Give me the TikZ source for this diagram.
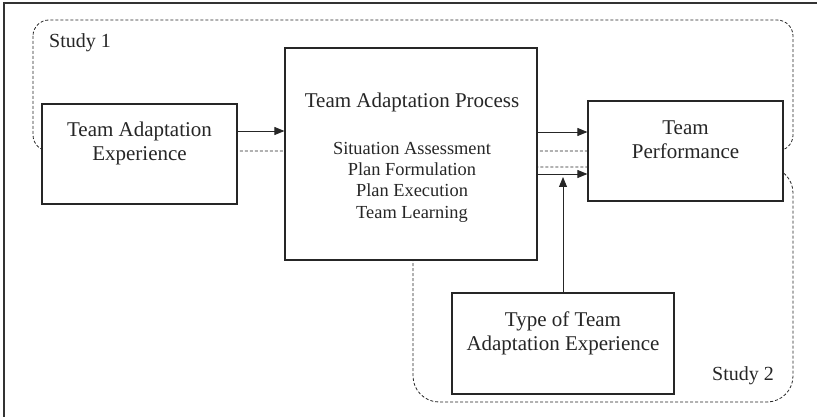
\documentclass[tikz,border=0pt]{standalone}
\usepackage{fontspec}
\setmainfont{Liberation Serif}
\usetikzlibrary{arrows.meta}
\begin{document}
\begin{tikzpicture}[x=1pt,y=-1pt,
  box/.style={draw=black!85, line width=1.2pt, fill=white, rectangle, inner sep=0pt},
  lbl/.style={align=center, font=\fontsize{21}{24}\selectfont, text=black!85, inner sep=0pt},
  item/.style={align=center, font=\fontsize{18.4}{21.3}\selectfont, text=black!85, inner sep=0pt},
  arr/.style={draw=black!85, line width=0.9pt, -{Triangle[length=10pt,width=8pt]}},
  region/.style={draw=black!85, line width=0.8pt, dash pattern=on 3pt off 2pt},
]
\useasboundingbox (0,0) rectangle (817,417);
\draw[line width=1.4pt, black!80] (4,417) -- (4,3) -- (817,3);
% study regions
\draw[region, rounded corners=16pt] (33,20) rectangle (793,151);
\draw[region, rounded corners=26pt] (413,167) rectangle (793,402);
% boxes
\node[box, minimum width=195pt, minimum height=100pt] (tae) at (139.5,154) {};
\node[box, minimum width=252pt, minimum height=212pt] (tap) at (411,154) {};
\node[box, minimum width=195pt, minimum height=100pt] (tp) at (685.5,151) {};
\node[box, minimum width=222pt, minimum height=101pt] (type) at (563,343.5) {};
% texts
\node[lbl] (taetext) at (139.5,143) {Team Adaptation\\Experience};
\node[lbl] (taptitle) at (412,102) {Team Adaptation Process};
\node[item] (tapitems) at (412,182) {Situation Assessment\\Plan Formulation\\Plan Execution\\Team Learning};
\node[lbl] (tptext) at (685.5,139.5) {Team\\Performance};
\node[lbl] (typetext) at (563,333.5) {Type of Team\\Adaptation Experience};
\node[lbl, font=\fontsize{20}{24}\selectfont] (study1) at (80,43) {Study 1};
\node[lbl, font=\fontsize{20}{24}\selectfont] (study2) at (743,376) {Study 2};
% connectors
\draw[arr] (tae.east |- 0,131) -- (tap.west |- 0,131);
\draw[arr] (tap.east |- 0,132) -- (tp.west |- 0,132);
\draw[arr] (tap.east |- 0,174) -- (tp.west |- 0,174);
\draw[arr] (type.north) -- (type.north |- 0,177);
\end{tikzpicture}
\end{document}
